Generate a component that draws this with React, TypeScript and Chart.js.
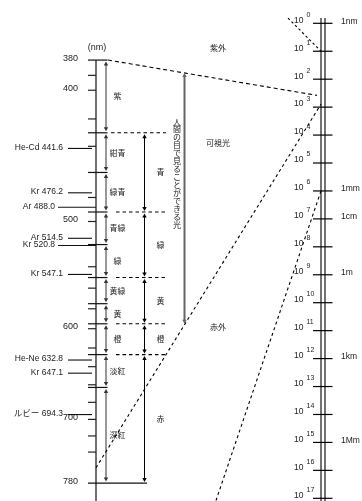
import React, { useEffect, useRef } from "react";
import { Chart, registerables } from "chart.js";

Chart.register(...registerables);

// ---------------- data ----------------
// visible range (nm) shown on the left scale
const VISIBLE_NM = [380, 780];
const NM_TICKS = [390, 400, 420, 440, 480, 500, 540, 560, 580, 600, 620, 640, 660, 680, 700, 720, 740];
const NM_TICK_LABELS = [380, 400, 500, 600, 700, 780];

// fine colour names and their boundaries (nm)
const FINE_BOUNDS = [380, 430, 460, 492, 520, 550, 575, 595, 627, 663, 780];
const FINE_NAMES = ["紫", "紺青", "緑青", "青緑", "緑", "黄緑", "黄", "橙", "淡紅", "深紅"];

// coarse colour names and their boundaries (nm)
const COARSE_BOUNDS = [430, 492, 550, 595, 627, 780];
const COARSE_NAMES = ["青", "緑", "黄", "橙", "赤"];
const DASHED_BOUNDS = [430, 492, 550, 595, 627];

// laser / emission lines
const LINE_NAMES = ["He-Cd", "Kr", "Ar", "Ar", "Kr", "Kr", "He-Ne", "Kr", "ルビー"];
const LINE_NM = [441.6, 476.2, 488.0, 514.5, 520.8, 547.1, 632.8, 647.1, 694.3];

// whole electromagnetic scale (nm, powers of ten)
const POW_EXPONENTS = [0, 1, 2, 3, 4, 5, 6, 7, 8, 9, 10, 11, 12, 13, 14, 15, 16, 17];
const UNIT_LABELS = ["1nm", "1mm", "1cm", "1m", "1km", "1Mm"];
const UNIT_EXPONENTS = [0, 6, 7, 9, 12, 15];
const REGION_NAMES = ["紫外", "可視光", "赤外"];
const EYE_TEXT = "人間の目で見ることができる光";

// guide lines (nm)
const UV_LIMIT_NM = 10;
const IR_LIMIT_NM = 1e6;
const RED_GUIDE_START_NM = 760;

// --------------- layout ----------------
const W = 362;
const H = 501;
const NM_AXIS = [343.1, 804.2];
const POW_AXIS = [0.1466, 1.249e17];

const LATIN = '"Liberation Sans", Arial, "Noto Sans CJK JP", sans-serif';
const CJK = '"Noto Sans CJK JP", sans-serif';

function arrow(ctx: CanvasRenderingContext2D, x: number, ya: number, yb: number, color: string, lw: number) {
  const hl = 4;
  const hw = 2.2;
  ctx.save();
  ctx.setLineDash([]);
  ctx.strokeStyle = color;
  ctx.fillStyle = color;
  ctx.lineWidth = lw;
  ctx.beginPath();
  ctx.moveTo(x, ya + hl - 0.5);
  ctx.lineTo(x, yb - hl + 0.5);
  ctx.stroke();
  ctx.beginPath();
  ctx.moveTo(x, ya);
  ctx.lineTo(x - hw, ya + hl);
  ctx.lineTo(x + hw, ya + hl);
  ctx.closePath();
  ctx.fill();
  ctx.beginPath();
  ctx.moveTo(x, yb);
  ctx.lineTo(x - hw, yb - hl);
  ctx.lineTo(x + hw, yb - hl);
  ctx.closePath();
  ctx.fill();
  ctx.restore();
}

function line(ctx: CanvasRenderingContext2D, x1: number, y1: number, x2: number, y2: number, dash: number[], lw = 1, color = "#000") {
  ctx.save();
  ctx.setLineDash(dash);
  ctx.strokeStyle = color;
  ctx.lineWidth = lw;
  ctx.beginPath();
  ctx.moveTo(x1, y1);
  ctx.lineTo(x2, y2);
  ctx.stroke();
  ctx.restore();
}

function text(ctx: CanvasRenderingContext2D, s: string, x: number, y: number, font: string, align: CanvasTextAlign, color = "#222") {
  ctx.save();
  ctx.font = font;
  ctx.fillStyle = color;
  ctx.textAlign = align;
  ctx.textBaseline = "middle";
  ctx.fillText(s, x, y);
  ctx.restore();
}

const spectrumPlugin = {
  id: "spectrum",
  afterDraw(chart: any) {
    const ctx: CanvasRenderingContext2D = chart.ctx;
    const sx = chart.scales.x;
    const sn = chart.scales.yNm;
    const sp = chart.scales.yPow;
    const X = (v: number) => sx.getPixelForValue(v);
    const YN = (v: number) => sn.getPixelForValue(v);
    const YP = (v: number) => sp.getPixelForValue(v);

    const axisX = X(96);
    const tickL = X(88);
    const col1 = X(106);
    const col1End = X(107.5);
    const col2 = X(144.5);
    const col3 = X(184.5);
    const rAxis1 = X(321);
    const rAxis2 = X(325);

    // ---- left axis ----
    line(ctx, axisX, YN(VISIBLE_NM[0]), axisX, H, [], 1.4, "#333");
    NM_TICKS.forEach((v) => line(ctx, tickL, YN(v), axisX, YN(v), [], 1.2, "#222"));
    FINE_BOUNDS.forEach((v, i) => {
      const right = i === FINE_BOUNDS.length - 1 ? X(147) : col1End;
      line(ctx, tickL, YN(v), right, YN(v), [], 1.2, "#111");
    });
    NM_TICK_LABELS.forEach((v) => text(ctx, String(v), X(78), YN(v) - 2, `9px ${LATIN}`, "right"));
    text(ctx, "(nm)", X(97), 48, `9px ${LATIN}`, "center");

    // emission lines
    LINE_NM.forEach((v, i) => {
      const isLong = i === 2 || i === 4;
      const y = YN(v);
      line(ctx, X(isLong ? 58 : 68), y, X(isLong ? 96 : 92), y, [], 1.1, "#111");
      text(ctx, `${LINE_NAMES[i]} ${v.toFixed(1)}`, X(isLong ? 55 : 63), y - 1, `8.5px ${LATIN}`, "right");
    });

    // fine arrows + names
    FINE_NAMES.forEach((name, i) => {
      const ya = YN(FINE_BOUNDS[i]);
      const yb = YN(FINE_BOUNDS[i + 1]);
      arrow(ctx, col1, ya + 1.5, yb - 1.5, "#333", 1);
      text(ctx, name, X(117.5), (ya + yb) / 2, `8px ${CJK}`, "center");
    });

    // dashed boundaries
    DASHED_BOUNDS.forEach((v, i) => {
      line(ctx, X(i === 0 ? 111 : 116), YN(v), X(166), YN(v), [3.5, 3], 1.1);
    });

    // coarse arrows + names
    COARSE_NAMES.forEach((name, i) => {
      const ya = YN(COARSE_BOUNDS[i]);
      const yb = YN(COARSE_BOUNDS[i + 1]);
      arrow(ctx, col2, ya + 1.5, yb - 1, "#000", 1);
      text(ctx, name, X(160.5), (ya + yb) / 2, `8px ${CJK}`, "center");
    });

    // ---- projection guide lines ----
    const aX1 = X(108), aY1 = YN(VISIBLE_NM[0]);
    const aX2 = X(317), aY2 = YP(VISIBLE_NM[0]);
    line(ctx, aX1, aY1, aX2, aY2, [4, 3], 1.1);
    const bX1 = axisX, bY1 = YN(RED_GUIDE_START_NM);
    const bX2 = rAxis1, bY2 = YP(VISIBLE_NM[1]);
    line(ctx, bX1, bY1, bX2, bY2, [3, 3], 1.1);
    line(ctx, X(288), YP(0.65), rAxis1, YP(UV_LIMIT_NM), [2.5, 2.5], 1.1);
    line(ctx, rAxis1, YP(IR_LIMIT_NM), X(216), YP(1.2e17), [3, 3], 1.1);

    // eye-visible arrow between the two projection lines
    const yTop = aY1 + ((aY2 - aY1) * (col3 - aX1)) / (aX2 - aX1);
    const yBot = bY1 + ((bY2 - bY1) * (col3 - bX1)) / (bX2 - bX1);
    arrow(ctx, col3, yTop, yBot - 1, "#666", 2);
    const chars = Array.from(EYE_TEXT);
    chars.forEach((c, i) => text(ctx, c, X(177), 121.5 + i * 7.95, `8px ${CJK}`, "center", "#222"));

    // region names
    const regionExp = [0.88, 4.28, 10.87];
    REGION_NAMES.forEach((n, i) => text(ctx, n, X(218), YP(Math.pow(10, regionExp[i])), `8px ${CJK}`, "center"));

    // ---- right axis ----
    line(ctx, rAxis1, 18, rAxis1, H, [], 1.1);
    line(ctx, rAxis2, 18, rAxis2, H, [], 1.1);
    POW_EXPONENTS.forEach((e) => {
      const y = YP(Math.pow(10, e));
      line(ctx, X(313), y, X(332.5), y, [], 1.2);
      text(ctx, "10", X(303.5), y - 3, `8.5px ${LATIN}`, "right");
      text(ctx, String(e), X(306.5), y - 8.5, `7px ${LATIN}`, "left");
    });
    UNIT_LABELS.forEach((u, i) => {
      text(ctx, u, X(341), YP(Math.pow(10, UNIT_EXPONENTS[i])) - 2, `8.5px ${LATIN}`, "left");
    });
  },
};

export default function App() {
  const ref = useRef<HTMLCanvasElement | null>(null);
  useEffect(() => {
    const canvas = ref.current;
    if (!canvas) return;
    const chart = new Chart(canvas, {
      type: "scatter",
      data: { datasets: [] },
      options: {
        responsive: false,
        animation: false,
        devicePixelRatio: 1,
        events: [],
        layout: { padding: 0 },
        plugins: { legend: { display: false }, tooltip: { enabled: false }, title: { display: false } },
        scales: {
          x: { type: "linear", min: 0, max: W, display: false },
          yNm: { type: "logarithmic", axis: "y", position: "left", reverse: true, min: NM_AXIS[0], max: NM_AXIS[1], bounds: "data", display: false },
          yPow: { type: "logarithmic", axis: "y", position: "right", reverse: true, min: POW_AXIS[0], max: POW_AXIS[1], bounds: "data", display: false },
        },
      },
      plugins: [spectrumPlugin],
    } as any);
    return () => chart.destroy();
  }, []);
  return (
    <div style={{ position: "fixed", left: 0, top: 0, width: W, height: H, background: "#fff" }}>
      <canvas ref={ref} width={W} height={H} style={{ display: "block", width: W, height: H }} />
    </div>
  );
}
